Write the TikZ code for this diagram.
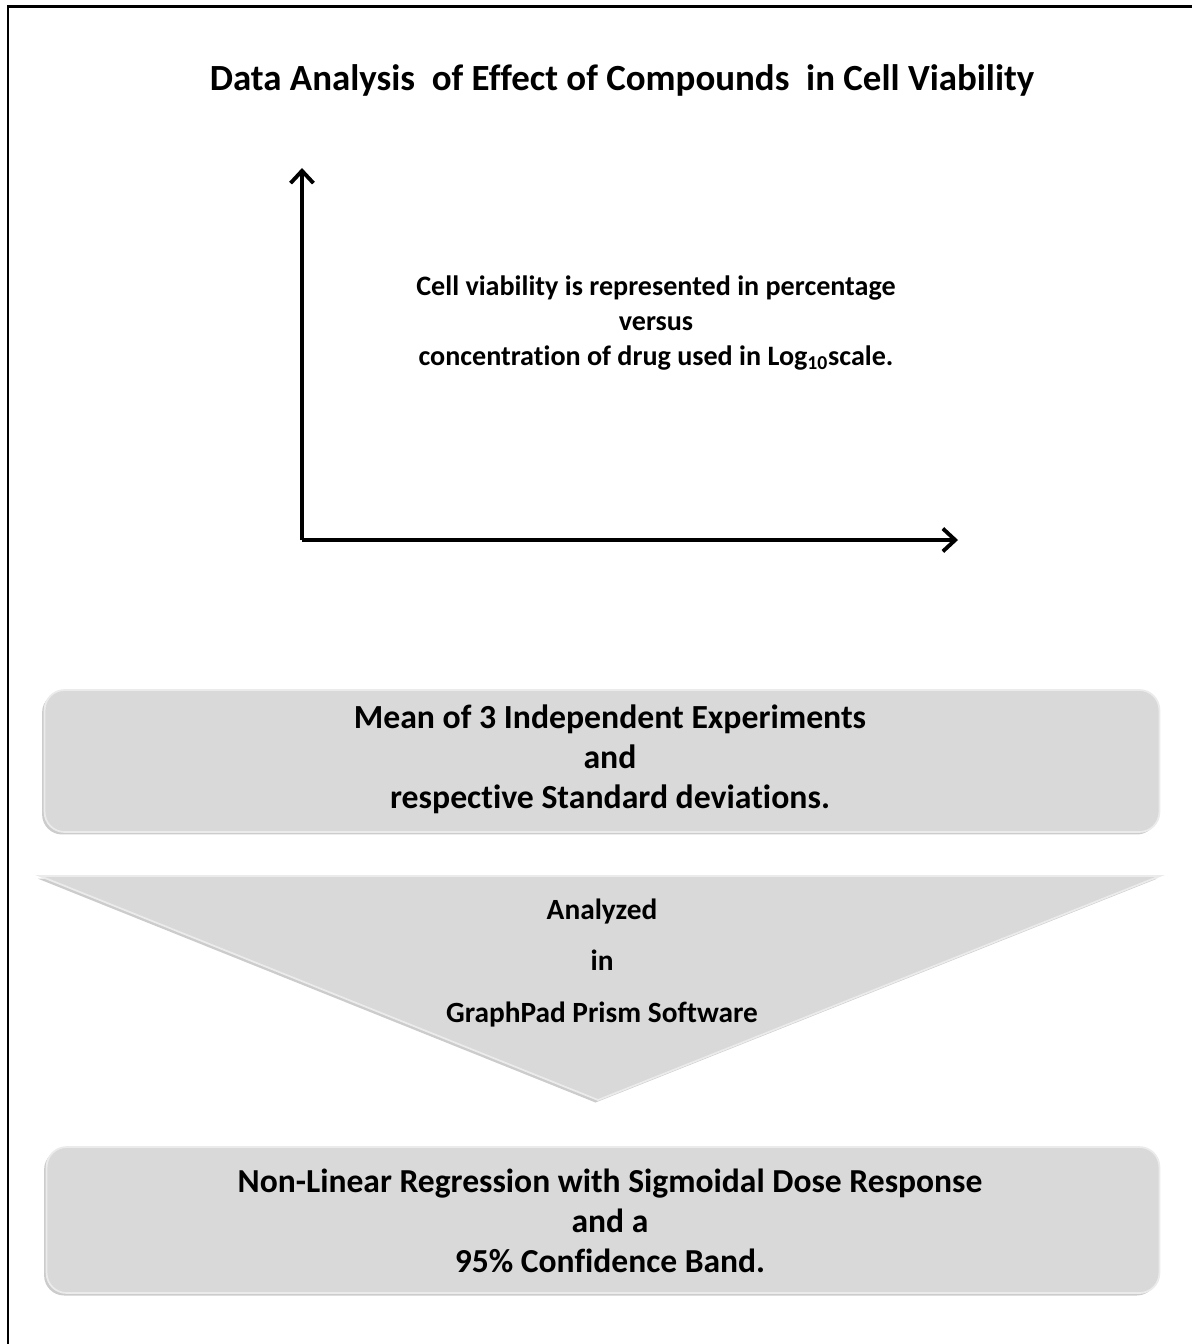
\documentclass[tikz,border=0pt]{standalone}
\usepackage{fontspec}
\setmainfont{Carlito}[Ligatures=NoCommon]
\usepackage{tikz}
\definecolor{white}{rgb}{1.0, 1.0, 1.0}
\definecolor{black}{rgb}{0.0, 0.0, 0.0}
\definecolor{boxgray}{RGB}{217,217,217}
\definecolor{edgegray}{RGB}{235,235,235}
\usetikzlibrary{shadows}
\usetikzlibrary{arrows.meta}
\pgfdeclarelayer{edgelayer}
\pgfdeclarelayer{nodelayer}
\pgfsetlayers{edgelayer,nodelayer,main}
\tikzstyle{box}=[rounded corners=0.4cm,fill=boxgray,draw=edgegray,line width=1pt,
  drop shadow={shadow xshift=-0.05cm,shadow yshift=-0.05cm,fill=black!40,opacity=0.5}]
\tikzstyle{axis}=[line width=2.2pt,-{Straight Barb[length=7pt,width=13pt]}]
\tikzstyle{label}=[align=center,font=\bfseries]

\begin{document}
\begin{tikzpicture}[x=0.02cm,y=-0.02cm]
        \useasboundingbox (0,0) rectangle (1191,1344);
        \begin{pgfonlayer}{nodelayer}
            \node [style = label, font=\bfseries\fontsize{21}{25}\selectfont] (title) at (622, 80) {Data Analysis\ \ of Effect of Compounds\ \ in Cell Viability};

            \coordinate (origin) at (302, 540);
            \coordinate (ytop) at (302, 168);
            \coordinate (xend) at (958, 540);
            \node [style = label, font=\bfseries\fontsize{16}{19.8}\selectfont] (plot) at (656, 323) {Cell viability is represented in percentage\\versus\\concentration of drug used in Log\textsubscript{10}scale.};

            \node [style = box, minimum width=22.3cm, minimum height=2.84cm] (mean) at (602, 761) {};
            \node [style = label, font=\bfseries\fontsize{19.2}{22.7}\selectfont] (meantext) at (610, 759) {Mean of 3 Independent Experiments\\and\\respective Standard deviations.};

            \coordinate (tl) at (40, 876);
            \coordinate (tr) at (1160, 876);
            \coordinate (tip) at (598, 1100);
            \node [style = label, font=\bfseries\fontsize{16.7}{29.5}\selectfont] (prism) at (602, 963) {Analyzed\\in\\GraphPad Prism Software};

            \node [style = box, minimum width=22.26cm, minimum height=2.92cm] (fit) at (603, 1220) {};
            \node [style = label, font=\bfseries\fontsize{19.1}{22.7}\selectfont] (fittext) at (610, 1221) {Non-Linear Regression with Sigmoidal Dose Response\\and a\\95\% Confidence Band.};
        \end{pgfonlayer}

        \begin{pgfonlayer}{edgelayer}
            \draw [line width=1.7pt] (8, 7) rectangle (1220, 1380);
            \draw [style = axis] (origin) to (ytop);
            \draw [style = axis] (origin) to (xend);
            \fill [boxgray, draw=edgegray, line width=1pt,
              drop shadow={shadow xshift=-0.05cm,shadow yshift=-0.05cm,fill=black!40,opacity=0.5}]
              (tl) -- (tr) -- (tip) -- cycle;
        \end{pgfonlayer}
    \end{tikzpicture}
\end{document}
